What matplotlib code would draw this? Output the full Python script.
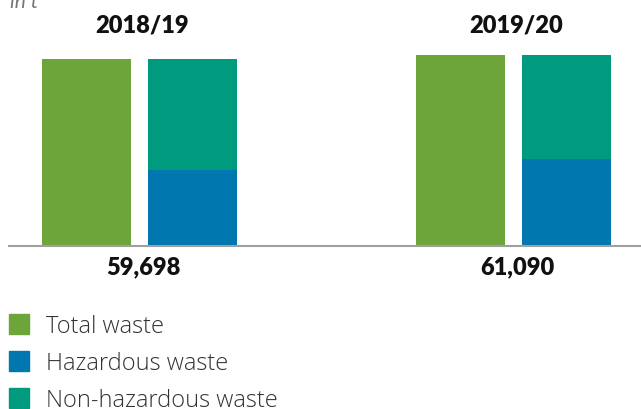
import matplotlib
matplotlib.use("Agg")
import matplotlib.pyplot as plt
from matplotlib.patches import Rectangle

years = ["2018/19", "2019/20"]
total = [59698, 61090]
hazardous = [24360, 27830]
non_hazardous = [t - h for t, h in zip(total, hazardous)]
total_labels = ["59,698", "61,090"]
legend_labels = ["Total waste", "Hazardous waste", "Non-hazardous waste"]

GREEN = "#6EA53A"
BLUE = "#0077AE"
TEAL = "#009A7E"

W, H = 641, 409
fig = plt.figure(figsize=(W / 100, H / 100), dpi=100)

# axes placed in pixel units: baseline at y=246 from top
ax = fig.add_axes([9 / W, (H - 246) / H, (W - 9) / W, 203.6 / H])
ax.set_xlim(-0.35, 1.34)
ax.set_ylim(0, 65000)

x = [0, 1]
off = 0.1417
bw = 0.238
ax.bar([i - off for i in x], total, bw, color=GREEN)
ax.bar([i + off for i in x], hazardous, bw, color=BLUE)
ax.bar([i + off for i in x], non_hazardous, bw, bottom=hazardous, color=TEAL)

for s in ["top", "right", "left"]:
    ax.spines[s].set_visible(False)
ax.spines["bottom"].set_color("#A0A0A0")
ax.spines["bottom"].set_linewidth(1.5)
ax.set_xticks([])
ax.set_yticks([])

for i, yr in enumerate(years):
    ax.text(i + 0.006, 1.03, yr, transform=ax.get_xaxis_transform(),
            ha="center", va="bottom", fontsize=17, fontweight="heavy",
            family="Lato", color="#111111")
    ax.text(i + 0.01, -0.05, total_labels[i], transform=ax.get_xaxis_transform(),
            ha="center", va="top", fontsize=17, fontweight="heavy",
            family="Lato", color="#111111")

fig.text(10 / W, 1 - 8 / H, "in t", ha="left", va="baseline", fontsize=15,
         style="italic", family="Lato", color="#777777")

colors = [GREEN, BLUE, TEAL]
for k, (lab, c) in enumerate(zip(legend_labels, colors)):
    yc = 324 + k * 36.8
    fig.add_artist(Rectangle((9 / W, (H - yc - 10) / H), 20 / W, 20 / H,
                             transform=fig.transFigure, color=c))
    fig.text(46 / W, (H - yc) / H, lab, ha="left", va="center_baseline",
             fontsize=17, family="Open Sans", fontweight="light", color="#333333")

fig.savefig("out.png", dpi=100)
